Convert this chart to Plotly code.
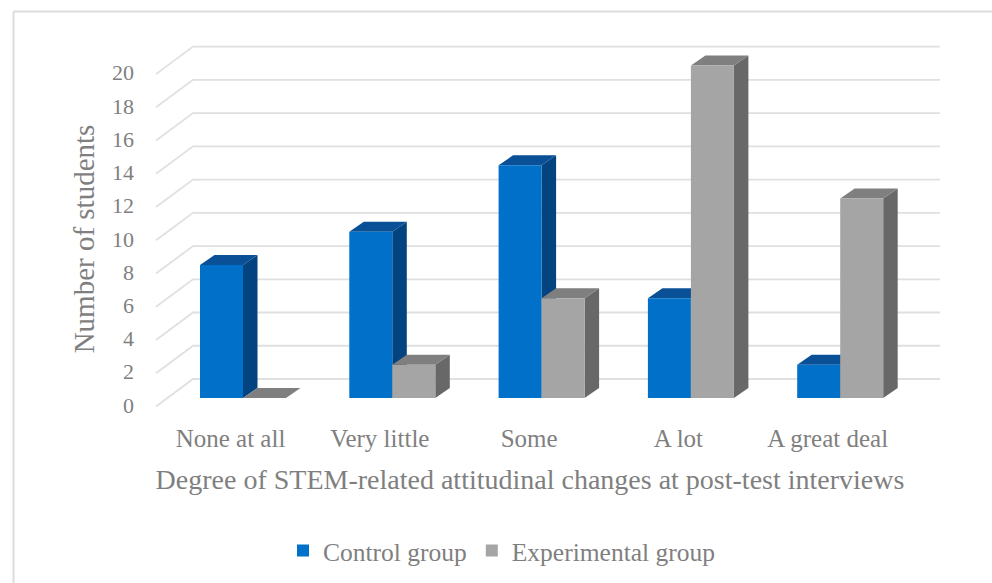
import plotly.graph_objects as go

categories = ["None at all", "Very little", "Some", "A lot", "A great deal"]
control_values = [8, 10, 14, 6, 2]
experimental_values = [0, 2, 6, 20, 12]
y_ticks = list(range(0, 21, 2))

FONT = "Liberation Serif"
TEXT = "#7f7f7f"
GRID = "#e0e0e0"

# pixel scales of the plotting box
L, R, T, B = 138, 922, 53, 425
X0_PX, X_UNIT = 243.0, 149.3
Y0_PX, Y_UNIT = 398.0, 16.62
W, H = 992, 583

BAR_W = 43 / X_UNIT
DX = 14.5 / X_UNIT
DY = 10 / Y_UNIT

xs = list(range(len(categories)))
fig = go.Figure()


def px2x(p):
    return (p - X0_PX) / X_UNIT


plot_w, plot_h = R - L, B - T


def pap_x(p):
    return (p - L) / plot_w


def pap_y(p):
    return (B - p) / plot_h


# 3D-look wall gridlines, one per tick value
shapes = []
for v in y_ticks:
    back = Y0_PX - v * Y_UNIT - 19
    front = Y0_PX - v * Y_UNIT + 8.5
    shapes.append(dict(
        type="path", xref="paper", yref="paper", layer="below",
        path=f"M {pap_x(156)} {pap_y(front)} L {pap_x(193)} {pap_y(back)} L {pap_x(940)} {pap_y(back)}",
        line=dict(color=GRID, width=1.8),
    ))


def faces(values, offset, side_color, top_color, z):
    sx, sy, tx, ty = [], [], [], []
    for i, v in zip(xs, values):
        a = i + offset
        b = a + BAR_W
        sx += [b, b + DX, b + DX, b, b, None]
        sy += [0, DY, v + DY, v, 0, None]
        tx += [a, a + DX, b + DX, b, a, None]
        ty += [v, v + DY, v + DY, v, v, None]
    for fx, fy, c in ((sx, sy, side_color), (tx, ty, top_color)):
        fig.add_trace(go.Scatter(x=fx, y=fy, mode="lines", fill="toself", fillcolor=c,
                                 line=dict(width=0, color=c), cliponaxis=False,
                                 showlegend=False, hoverinfo="skip", zorder=z))


faces(control_values, -BAR_W, "#03437f", "#0a5096", 1)
fig.add_trace(go.Bar(x=xs, y=control_values, name="Control group", width=BAR_W, offset=-BAR_W,
                     marker=dict(color="#0070c8", line=dict(width=0)), zorder=2))
faces(experimental_values, 0, "#686868", "#7f7f7f", 3)
fig.add_trace(go.Bar(x=xs, y=experimental_values, name="Experimental group", width=BAR_W, offset=0,
                     marker=dict(color="#a5a5a5", line=dict(width=0)), zorder=4))

shapes += [
    dict(type="line", xref="paper", yref="paper", x0=pap_x(13.5), x1=pap_x(W), y0=pap_y(11.5), y1=pap_y(11.5),
         line=dict(color="#dcdcdc", width=2)),
    dict(type="line", xref="paper", yref="paper", x0=pap_x(13.5), x1=pap_x(13.5), y0=pap_y(11.5), y1=pap_y(H),
         line=dict(color="#dcdcdc", width=2)),
]

fig.update_layout(
    width=W, height=H, barmode="overlay",
    margin=dict(l=L, r=W - R, t=T, b=H - B, pad=0),
    paper_bgcolor="white", plot_bgcolor="rgba(0,0,0,0)",
    font=dict(family=FONT, color=TEXT, size=22),
    xaxis=dict(
        range=[px2x(L), px2x(R)], showgrid=False, zeroline=False, showline=False,
        tickmode="array", tickvals=[i - 12.5 / X_UNIT for i in xs], ticktext=categories,
        ticks="", tickangle=0, tickfont=dict(size=25, family=FONT, color=TEXT),
        ticklabelstandoff=-4,
        title=dict(text="Degree of STEM-related attitudinal changes at post-test interviews",
                   font=dict(size=28, family=FONT, color=TEXT), standoff=18),
    ),
    yaxis=dict(
        range=[(Y0_PX - B) / Y_UNIT, (Y0_PX - T) / Y_UNIT], showgrid=False, zeroline=False, showline=False,
        tickmode="array", tickvals=[v - 7 / Y_UNIT for v in y_ticks], ticktext=[str(v) for v in y_ticks],
        ticks="", tickfont=dict(size=22, family=FONT, color=TEXT),
        ticklabelstandoff=3,
        title=dict(text="Number of students", font=dict(size=29, family=FONT, color=TEXT), standoff=8),
    ),
    legend=dict(orientation="h", xref="container", yref="container",
                x=283 / W, xanchor="left", y=1 - 551 / H, yanchor="middle",
                font=dict(size=25.5, family=FONT, color=TEXT), bgcolor="rgba(0,0,0,0)",
                traceorder="normal"),
    shapes=shapes,
)

fig.write_html("out.html", config={"displayModeBar": False},
               post_script="document.body.style.margin='0';")
